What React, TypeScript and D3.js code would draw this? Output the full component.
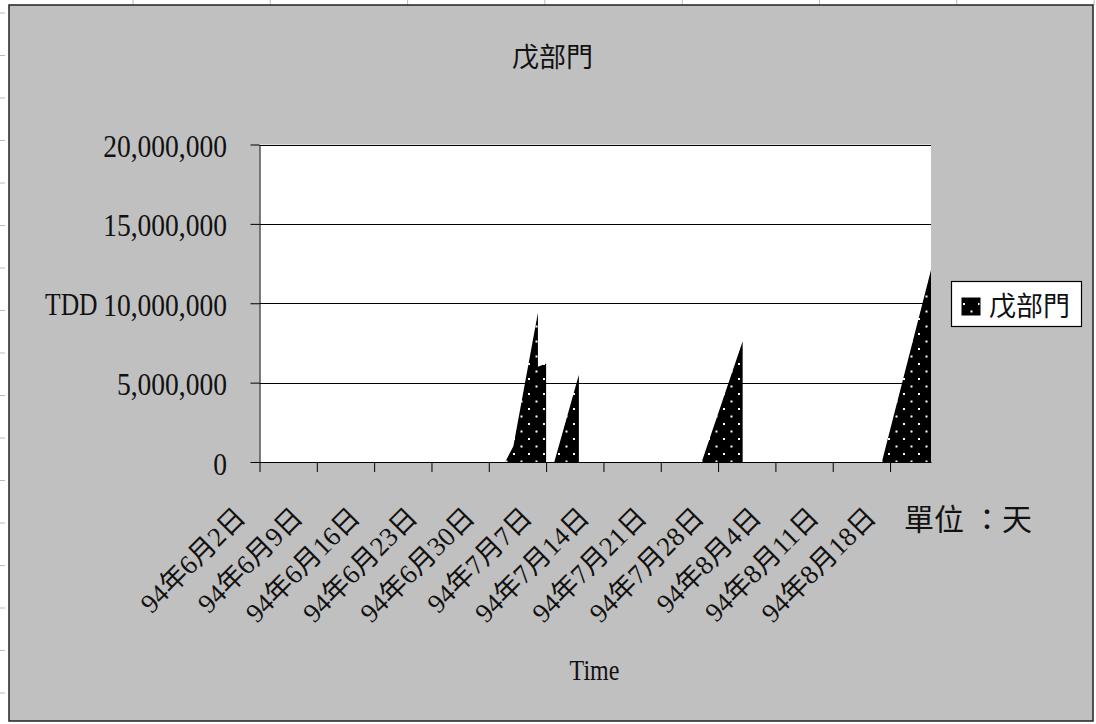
import React, { useEffect, useRef } from "react";
import * as d3 from "d3";

const W = 1096;
const H = 724;

// 戊部門 series: repeated dates give the vertical drops of the original area chart
const pointDates = [
  "2005-06-02", "2005-07-02", "2005-07-03", "2005-07-06", "2005-07-06", "2005-07-07", "2005-07-07",
  "2005-07-08", "2005-07-11", "2005-07-11",
  "2005-07-26", "2005-07-31", "2005-07-31",
  "2005-08-17", "2005-08-23",
];
const pointValues = [
  0, 0, 1000000, 9400000, 6000000, 6200000, 0,
  0, 5500000, 0,
  0, 7600000, 0,
  0, 12100000,
];

const domainDates = ["2005-06-02", "2005-08-23"];
const tickDates = [
  "2005-06-02", "2005-06-09", "2005-06-16", "2005-06-23", "2005-06-30", "2005-07-07",
  "2005-07-14", "2005-07-21", "2005-07-28", "2005-08-04", "2005-08-11", "2005-08-18",
];
const tickLabels = [
  "94年6月2日", "94年6月9日", "94年6月16日", "94年6月23日", "94年6月30日", "94年7月7日",
  "94年7月14日", "94年7月21日", "94年7月28日", "94年8月4日", "94年8月11日", "94年8月18日",
];
const yTicks = [0, 5000000, 10000000, 15000000, 20000000];

const seriesName = "戊部門";
const SERIF = "'Liberation Serif', 'Times New Roman', serif";
const CJK = "'Noto Sans CJK TC', 'Noto Sans CJK SC', sans-serif";

export default function App() {
  const ref = useRef<SVGSVGElement>(null);

  useEffect(() => {
    if (!ref.current) return;
    drawChart(ref.current);
  }, []);

  return <svg ref={ref} width={W} height={H} style={{ position: "absolute", left: 0, top: 0 }} />;
}

function drawChart(svg: SVGSVGElement) {
  const el = d3.select(svg);
  el.selectAll("*").remove();

  const parse = d3.timeParse("%Y-%m-%d");
  const plot = { left: 259.5, right: 931, top: 144.5, bottom: 462 };

  const x = d3.scaleTime().domain(domainDates.map((d) => parse(d)!)).range([plot.left, plot.right]);
  const y = d3.scaleLinear().domain([0, 20000000]).range([plot.bottom, plot.top]);

  // black fill with white dots
  const pat = el.append("defs").append("pattern")
    .attr("id", "dots").attr("patternUnits", "userSpaceOnUse")
    .attr("width", 15).attr("height", 15);
  pat.append("rect").attr("width", 15).attr("height", 15).attr("fill", "#000");
  pat.append("rect").attr("x", 3).attr("y", 3).attr("width", 2).attr("height", 2).attr("fill", "#fff");
  pat.append("rect").attr("x", 10.5).attr("y", 10.5).attr("width", 2).attr("height", 2).attr("fill", "#fff");

  // sheet behind the chart
  el.append("rect").attr("width", W).attr("height", H).attr("fill", "#fff");
  d3.range(133, W, 137.3).forEach((gx) => {
    el.append("line").attr("x1", gx).attr("x2", gx).attr("y1", 0).attr("y2", 5).attr("stroke", "#bbb");
  });
  d3.range(13, H, 42.5).forEach((gy) => {
    el.append("line").attr("x1", 0).attr("x2", 5).attr("y1", gy).attr("y2", gy).attr("stroke", "#bbb");
  });

  // chart area
  el.append("rect")
    .attr("x", 9).attr("y", 5).attr("width", 1084).attr("height", 716)
    .attr("fill", "#c0c0c0").attr("stroke", "#222").attr("stroke-width", 1.5);

  // plot area
  el.append("rect")
    .attr("x", plot.left).attr("y", plot.top)
    .attr("width", plot.right - plot.left).attr("height", plot.bottom - plot.top)
    .attr("fill", "#fff");

  // gridlines
  yTicks.filter((t) => t > 0).forEach((t) => {
    el.append("line")
      .attr("x1", plot.left).attr("x2", plot.right)
      .attr("y1", Math.round(y(t)) + 0.5).attr("y2", Math.round(y(t)) + 0.5)
      .attr("stroke", "#000").attr("stroke-width", 1);
  });

  const area = d3.area<number>()
    .x((_, i) => x(parse(pointDates[i])!))
    .y0(y(0))
    .y1((d) => y(d));

  el.append("path").datum(pointValues).attr("d", area).attr("fill", "url(#dots)");

  // y axis
  const gy = el.append("g").attr("transform", `translate(${plot.left},0)`)
    .call(d3.axisLeft(y).tickValues(yTicks).tickSize(9).tickSizeOuter(0).tickFormat(d3.format(",") as any));
  gy.selectAll("path, line").attr("stroke", "#000");
  gy.selectAll("text")
    .attr("font-family", SERIF).attr("font-size", 32).attr("fill", "#111")
    .attr("x", 0).attr("dy", 0).attr("text-anchor", "end")
    .attr("transform", "translate(-32.5,12) scale(0.86,1)");

  // x axis
  const gx = el.append("g").attr("transform", `translate(0,${plot.bottom})`)
    .call(d3.axisBottom(x).tickValues(tickDates.map((d) => parse(d)!)).tickSize(10).tickSizeOuter(0)
      .tickFormat((_, i) => tickLabels[i]));
  gx.selectAll("path, line").attr("stroke", "#000");
  gx.selectAll("text")
    .attr("font-family", `${SERIF.split(",")[0]}, ${CJK}`).attr("font-size", 27).attr("fill", "#111")
    .attr("x", 0).attr("y", 0).attr("dy", 0).attr("text-anchor", "end")
    .attr("transform", "translate(-13,57) rotate(-45)");

  // titles
  el.append("text")
    .attr("x", 552.5).attr("y", 67).attr("text-anchor", "middle")
    .attr("font-family", CJK).attr("font-size", 27).attr("fill", "#111")
    .text(seriesName);

  el.append("g").attr("transform", "translate(45,315) scale(0.8,1)")
    .append("text").attr("font-family", SERIF).attr("font-size", 32).attr("fill", "#111").text("TDD");

  el.append("g").attr("transform", "translate(594.5,680) scale(0.8,1)")
    .append("text").attr("text-anchor", "middle")
    .attr("font-family", SERIF).attr("font-size", 30).attr("fill", "#111").text("Time");

  el.append("text").attr("x", 904).attr("y", 530)
    .attr("font-family", CJK).attr("font-size", 30).attr("fill", "#111").text("單位");
  el.append("text").attr("x", 972).attr("y", 530)
    .attr("font-family", CJK).attr("font-size", 30).attr("fill", "#111").text("：天");

  // legend
  el.append("rect")
    .attr("x", 951.5).attr("y", 281.5).attr("width", 130).attr("height", 45)
    .attr("fill", "#fff").attr("stroke", "#000").attr("stroke-width", 1.2);
  el.append("rect")
    .attr("x", 962).attr("y", 298).attr("width", 18).attr("height", 17)
    .attr("fill", "url(#dots)").attr("stroke", "#000");
  el.append("text").attr("x", 989).attr("y", 316)
    .attr("font-family", CJK).attr("font-size", 27).attr("fill", "#111").text(seriesName);
}
